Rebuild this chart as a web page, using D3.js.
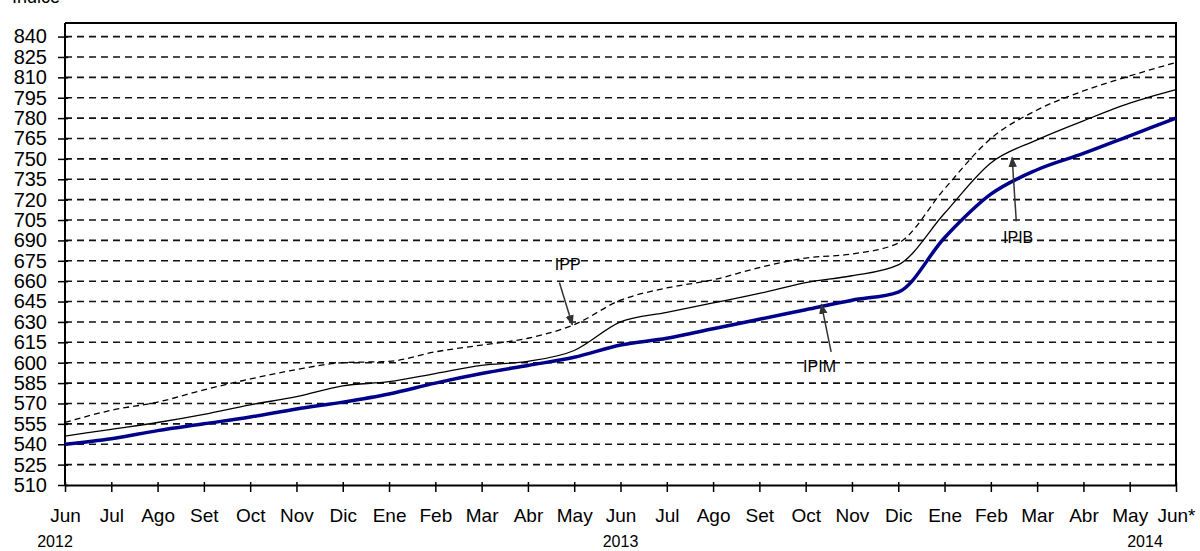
<!DOCTYPE html>
<html>
  <head>
    <meta charset="utf-8" />
    <script src="https://d3js.org/d3.v7.min.js"></script>
    <style>
      body { margin: 0; background: #fff; }
      text { font-family: Arial, "Liberation Sans", sans-serif; fill: #000; }
      .grid line { stroke: #111; stroke-width: 1.6; stroke-dasharray: 7 5; }
    </style>
  </head>
  <body>
    <svg id="chart" width="1200" height="551"></svg>

    <script>
      // months on the x axis (Jun 2012 .. Jun 2014)
      const months = ["Jun", "Jul", "Ago", "Set", "Oct", "Nov", "Dic", "Ene", "Feb", "Mar", "Abr", "May",
                      "Jun", "Jul", "Ago", "Set", "Oct", "Nov", "Dic", "Ene", "Feb", "Mar", "Abr", "May", "Jun*"];
      const years = [
        { label: "2012", idx: 0, dx: -10 },
        { label: "2013", idx: 12, dx: 0 },
        { label: "2014", idx: 24, dx: -31 }
      ];
      const yTicks = d3.range(510, 841, 15);

      // series values
      const ipim = [540, 544, 550, 555, 560, 566, 571, 577, 585, 592, 598, 604,
                    613, 618, 625, 632, 639, 646, 652, 692, 724, 742, 754, 767, 780];
      const ipib = [546, 551, 556, 562, 569, 575, 583, 586, 592, 598, 601, 609,
                    630, 637, 644, 651, 659, 664, 672, 710, 747, 764, 778, 791, 801];
      const ipp  = [556, 565, 571, 580, 588, 595, 600, 601, 608, 613, 618, 628,
                    646, 655, 661, 670, 677, 680, 688, 728, 765, 786, 800, 811, 821];

      // annotations in data coordinates (month index, value)
      const notes = [
        { text: "IPP",  at: [10.86, 672], from: [10.68, 659], to: [10.96, 628] },
        { text: "IPIM", at: [16.3, 597],  from: [16.55, 608], to: [16.34, 643] },
        { text: "IPIB", at: [20.59, 692], from: [20.55, 704], to: [20.46, 751] }
      ];

      const svg = d3.select("#chart");
      const mLeft = 65, mRight = 1176, mTop = 23, mBottom = 485;

      const x = d3.scaleLinear().domain([0, months.length - 1]).range([mLeft, mRight]);
      const y = d3.scaleLinear().domain([510, 850]).range([mBottom, mTop]);

      // title (cut off at top in the original)
      svg.append("text").attr("x", 12).attr("y", 3).style("font-size", "18px").text("Índice");

      // dashed gridlines
      svg.append("g").attr("class", "grid")
        .selectAll("line")
        .data(yTicks.filter(d => d > 510))
        .join("line")
        .attr("x1", mLeft).attr("x2", mRight)
        .attr("y1", d => y(d)).attr("y2", d => y(d));

      // frame
      svg.append("path")
        .attr("d", `M${mLeft},${mTop}H${mRight}V${mBottom}`)
        .attr("fill", "none").attr("stroke", "#000").attr("stroke-width", 2);

      // y axis
      const yAxis = svg.append("g")
        .attr("transform", `translate(${mLeft},0)`)
        .call(d3.axisLeft(y).tickValues(yTicks).tickSizeInner(7).tickSizeOuter(0).tickPadding(11));
      yAxis.select(".domain").attr("stroke-width", 2).attr("d", `M0,${mTop}V${mBottom}`);
      yAxis.selectAll(".tick line").attr("x2", 3).attr("x1", -7).attr("stroke-width", 1.5);
      yAxis.selectAll(".tick text").style("font-size", "20px").attr("fill", "#000");

      // x axis
      const xAxis = svg.append("g")
        .attr("transform", `translate(0,${mBottom})`)
        .call(d3.axisBottom(x).tickValues(d3.range(months.length)).tickFormat(i => months[i])
          .tickSizeOuter(0).tickPadding(18));
      xAxis.select(".domain").attr("stroke-width", 2);
      xAxis.selectAll(".tick line").attr("y1", -3).attr("y2", 7).attr("stroke-width", 1.5);
      xAxis.selectAll(".tick text").style("font-size", "19px").attr("fill", "#000");

      svg.append("g").selectAll("text")
        .data(years)
        .join("text")
        .attr("x", d => x(d.idx) + d.dx)
        .attr("y", 547)
        .attr("text-anchor", "middle")
        .style("font-size", "16px")
        .text(d => d.label);

      // lines
      const line = d3.line()
        .x((d, i) => x(i))
        .y(d => y(d))
        .curve(d3.curveMonotoneX);

      svg.append("path").datum(ipp)
        .attr("d", line).attr("fill", "none")
        .attr("stroke", "#000").attr("stroke-width", 1.3).attr("stroke-dasharray", "6 4");
      svg.append("path").datum(ipib)
        .attr("d", line).attr("fill", "none")
        .attr("stroke", "#000").attr("stroke-width", 1.3);
      svg.append("path").datum(ipim)
        .attr("d", line).attr("fill", "none")
        .attr("stroke", "#00008b").attr("stroke-width", 3.5);

      // arrows + labels
      svg.append("defs").append("marker")
        .attr("id", "arrow")
        .attr("viewBox", "0 0 10 10")
        .attr("refX", 9).attr("refY", 5)
        .attr("markerWidth", 7).attr("markerHeight", 7)
        .attr("orient", "auto")
        .append("path").attr("d", "M0,1L10,5L0,9Z").attr("fill", "#333");

      const ann = svg.append("g");
      ann.selectAll("line")
        .data(notes)
        .join("line")
        .attr("x1", d => x(d.from[0])).attr("y1", d => y(d.from[1]))
        .attr("x2", d => x(d.to[0])).attr("y2", d => y(d.to[1]))
        .attr("stroke", "#333").attr("stroke-width", 1.5)
        .attr("marker-end", "url(#arrow)");
      ann.selectAll("text")
        .data(notes)
        .join("text")
        .attr("x", d => x(d.at[0])).attr("y", d => y(d.at[1]))
        .attr("dy", "0.35em")
        .attr("text-anchor", "middle")
        .style("font-size", "16px")
        .text(d => d.text);
    </script>
  </body>
</html>
